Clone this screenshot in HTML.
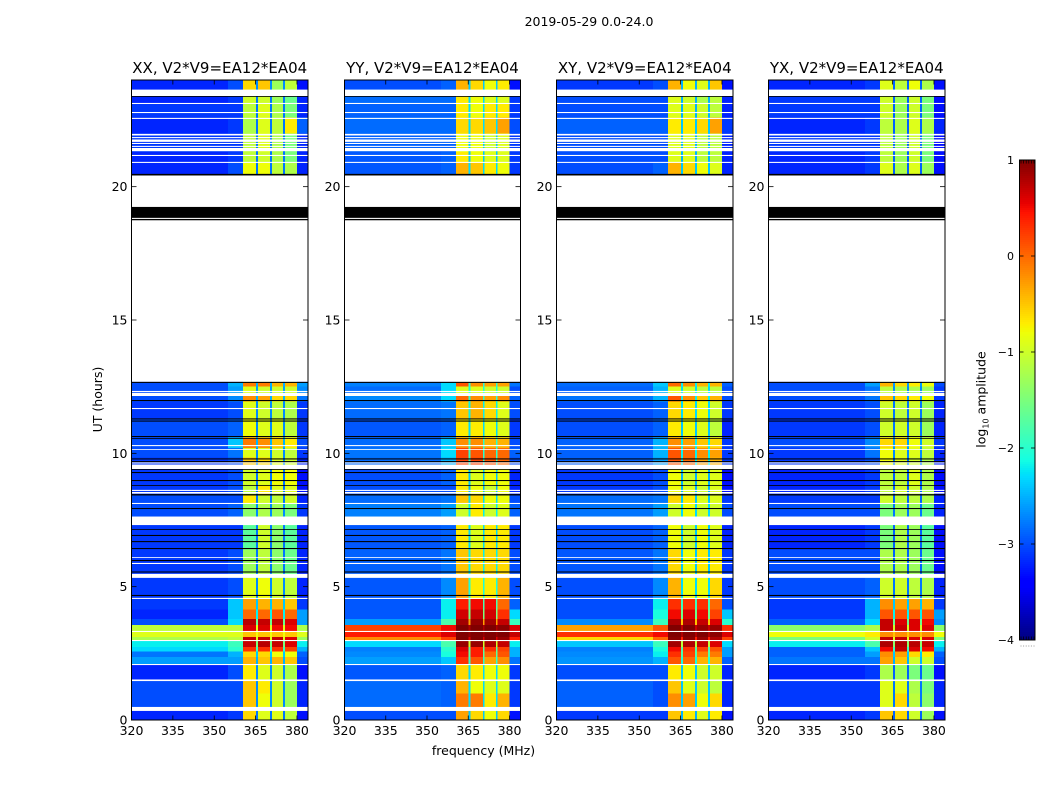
<!DOCTYPE html>
<html lang="en">
<head>
<meta charset="utf-8">
<title>2019-05-29 amplitude waterfall</title>
<style>
html,body{margin:0;padding:0;background:#fff;width:1050px;height:800px;overflow:hidden}
svg{display:block}
text{font-family:"DejaVu Sans","Liberation Sans",sans-serif;fill:#000}
</style>
</head>
<body>
<svg id="chart" xmlns="http://www.w3.org/2000/svg" width="1050" height="800" viewBox="0 0 1050 800">
  <rect x="0" y="0" width="1050" height="800" fill="#fff"/>
  <text x="589" y="26" font-size="12.5" text-anchor="middle">2019-05-29 0.0-24.0</text>
  <text transform="translate(102,399.5) rotate(-90)" font-size="12.5" text-anchor="middle">UT (hours)</text>
  <text x="483.5" y="755" font-size="12.5" text-anchor="middle">frequency (MHz)</text>
  <g id="panels"></g>
  <g id="colorbar"></g>
  <text transform="translate(985.5,399.5) rotate(-90)" font-size="12.5" text-anchor="middle">log<tspan font-size="8" dy="3">10</tspan><tspan dy="-3"> amplitude</tspan></text>
</svg>
<script>
// Axis ticks
const xTicks = [320, 335, 350, 365, 380];
const yTicks = [0, 5, 10, 15, 20];
const colorTicks = [1, 0, -1, -2, -3, -4];
const colorTickLabels = ['1', '0', '\u22121', '\u22122', '\u22123', '\u22124'];

// Panel titles
const panelTitles = ['XX, V2*V9=EA12*EA04', 'YY, V2*V9=EA12*EA04', 'XY, V2*V9=EA12*EA04', 'YX, V2*V9=EA12*EA04'];

// Frequency bin edges (MHz) and the value column used by each bin
const freqEdges = [320, 355, 360.5, 365.1, 365.9, 370.3, 370.9, 375, 375.7, 380, 384];
const binColumns = [0, 1, 2, 6, 3, 6, 4, 6, 5, 7];

// Upper edge of each time row (hours); a row ends where the next begins
const rowTops = [24, 23.64, 23.1, 22.6, 22, 21.3, 20.9, 12.68, 12.5, 12.15, 11.95, 11.3, 10.6, 10.2, 9.85, 9.41, 8.8, 8.45, 8.1, 7.31, 6.4, 5.33, 4.54, 4.15, 3.78, 3.56, 3.34, 3.12, 2.96, 2.73, 2.56, 2.37, 2.09, 1.5, 1, 0.49];

// Flagged time ranges [from, to] in hours
const whiteFlags = [[23.64,23.4],[23.14,23.1],[22.8,22.76],[22.58,22.54],[21.98,21.92],[21.86,21.82],[21.77,21.68],[21.64,21.6],[21.53,21.49],[21.45,21.33],[21.19,21.15],[20.93,20.89],[20.42,12.68],[12.34,12.3],[12.27,12.15],[11.7,11.66],[10.31,10.27],[10.16,10.13],[9.66,9.62],[9.58,9.41],[8.63,8.59],[8.55,8.49],[8.14,8.1],[7.63,7.31],[6.11,6.08],[5.89,5.85],[5.48,5.33],[4.58,4.54],[3.34,3.3],[3,2.96],[2.1,2.06],[1.52,1.46],[0.49,0.34]];
const blackFlags = [[23.4,23.37],[20.48,20.42],[19.24,18.83],[18.79,18.74],[12.68,12.64],[12,11.96],[11.31,11.27],[11.23,11.19],[10.65,10.61],[10.57,10.54],[9.81,9.77],[9.71,9.67],[9.41,9.38],[9.3,9.26],[9,8.96],[8.81,8.78],[8.47,8.42],[7.95,7.91],[7.16,7.13],[6.94,6.9],[6.71,6.67],[6.45,6.41],[6,5.96],[5.57,5.53],[4.69,4.65]];

// log10 amplitude per row: [background, rising edge, band 1, band 2, band 3, band 4, band gap, right side]
const xxValues = [
[-3.2,-3,-.6,-.5,-1.3,-1.1,-2.7,-3.3],[-3.2,-3.1,-1,-1,-1.3,-1.6,-2.8,-3.2],[-3.1,-3.1,-1.1,-.9,-1.2,-1.5,-2.8,-3.2],[-3.2,-3.1,-1.2,-.9,-1.1,-.7,-2.8,-2.9],
[-3.1,-3.1,-1.1,-.9,-1.2,-1.5,-2.8,-3.2],[-3.2,-3.1,-1.1,-1,-1.2,-1.5,-2.8,-3.2],[-3.2,-3,-.8,-.8,-1.1,-1.2,-2.8,-3.2],[-3,-2.5,-.1,-.1,-.4,-.4,-2.5,-2.6],
[-3,-2.6,-.9,-1,-1,-1,-2.6,-2.7],[-3,-2.7,-.2,-.3,-.6,-.6,-2.5,-2.8],[-3.1,-3,-.9,-1,-1.1,-1.2,-2.7,-3.1],[-3,-2.9,-.8,-.9,-.9,-1.1,-2.7,-3.1],
[-3,-2.4,-.1,-.2,-.5,-.7,-2.5,-3],[-3,-2.8,-.9,-.9,-1,-1.1,-2.7,-3.1],[-3.1,-3,-.5,-.6,-.9,-1,-2.7,-3.2],[-3.1,-3,-1,-.9,-.8,-.8,-2.8,-3.3],
[-3.1,-3,-1.1,-.7,-.9,-.9,-2.8,-3.3],[-3,-3,-.7,-1,-1.1,-1,-2.8,-3.2],[-3,-2.9,-1.4,-1.2,-1.3,-1.5,-2.7,-3.1],[-3.1,-3.1,-1.7,-1,-1.4,-1.7,-2.8,-3.2],
[-3.1,-3,-1.3,-1.1,-1.4,-1.6,-2.8,-3.2],[-3.1,-3,-.9,-.8,-1,-1.1,-2.7,-3.2],[-3.1,-2.4,-.3,-.4,-.4,-.5,-2.4,-3.1],[-3.2,-2.4,0,0,.1,0,-2.2,-2.6],
[-3,-2.3,.75,.7,.7,.6,-1.6,-2.6],[-1.1,-1.1,.6,.6,.5,.5,-.9,-1.2],[-.9,-.9,-.5,-.5,-.5,-.5,-.8,-.9],[-1.2,-1.1,.7,.7,.7,.6,-.9,-1.3],
[-2.2,-1.9,.7,.75,.7,.6,-1.5,-2.2],[-2.3,-2,.3,.3,.3,.2,-1.9,-2.5],[-2.8,-2.5,-.6,-.6,-.8,-.8,-2.4,-2.9],[-2.6,-2.6,-.4,-.5,-.4,-.5,-2.5,-3],
[-3.2,-3,-.7,-.9,-1,-1.2,-2.7,-3.3],[-3,-3,-.5,-.7,-1,-1.3,-2.7,-3.2],[-3,-3,-.5,-.8,-1,-1.3,-2.7,-3.2],[-3.2,-3.1,-.6,-.9,-.9,-1.1,-2.8,-3.3]
];
const yyValues = [
[-3,-2.9,-.4,-.6,-.8,-.7,-2.4,-3.3],[-2.85,-2.85,-.7,-.8,-.9,-.9,-2.3,-3.1],[-2.9,-2.9,-.7,-.8,-.7,-.7,-2.3,-3.1],[-2.85,-2.85,-.6,-.6,-.5,-.3,-2.3,-3],
[-2.9,-2.9,-.8,-.8,-1,-.9,-2.4,-3.1],[-2.95,-2.9,-.7,-.8,-.9,-.9,-2.4,-3.1],[-2.95,-2.9,-.4,-.5,-.7,-.8,-2.3,-3.1],[-2.75,-2.3,.1,-.2,-.3,-.3,-2,-2.8],
[-2.85,-2.3,-.9,-.9,-1,-1,-2.1,-3],[-2.7,-2.3,0,-.2,-.3,-.2,-2,-2.9],[-2.85,-2.8,-.5,-.4,-.6,-.9,-2.2,-3],[-2.95,-2.9,-.7,-.7,-.8,-.9,-2.3,-3.1],
[-2.85,-2.4,-.2,-.2,-.4,-.4,-2,-3],[-2.8,-2.3,.2,.1,0,0,-2,-2.9],[-2.85,-2.5,.2,.2,.1,0,-2,-3],[-3,-2.9,-.7,-.9,-.8,-.8,-2.4,-3.2],
[-3,-3,-.7,-.8,-1,-.8,-2.5,-3.2],[-2.85,-2.8,-.5,-.6,-.8,-.8,-2.3,-3],[-2.75,-2.6,-1,-.7,-1,-.9,-2.2,-2.9],[-2.95,-2.9,-.7,-.9,-.7,-.7,-2.3,-3.1],
[-2.9,-2.8,-.5,-.6,-.6,-.6,-2.2,-3],[-2.95,-2.7,-.3,-.7,-.7,-.4,-2.1,-3],[-2.95,-2.2,.4,.5,.5,0,-1.8,-2.9],[-2.95,-2.2,.65,.7,.65,.3,-1.5,-2.3],
[-2.6,-1.8,.85,.9,.85,.7,-.3,-1.9],[.2,.5,1,1,1,.95,.8,.6],[.4,.6,1,1,1,1,.9,.7],[-.2,.2,1,1,1,.9,.6,.4],
[-2.3,-1.8,.9,.9,.8,.7,-1,-2.2],[-2.75,-2,.6,.4,.3,.2,-1.7,-2.5],[-2.7,-2.1,.5,.4,0,.1,-1.7,-2.5],[-2.6,-2.4,.3,.1,-.3,-.2,-2,-2.8],
[-2.95,-2.9,-.6,-.7,-.8,-.8,-2.3,-3.1],[-2.85,-2.9,-.4,-.8,-.9,-.9,-2.3,-3.1],[-2.85,-2.9,-.1,-.1,-.7,-.4,-2.3,-3.1],[-3,-3,-.3,-.6,-.8,-.6,-2.4,-3.3]
];
const xyValues = [
[-3.1,-3,-.4,-.8,-.9,-.5,-2.5,-3.3],[-3,-3,-.9,-1,-1.2,-1.1,-2.5,-3.2],[-3,-3,-.9,-.9,-1,-1.1,-2.5,-3.2],[-2.9,-2.9,-.7,-.7,-.6,-.3,-2.4,-3.1],
[-3,-3,-.9,-.9,-1.1,-1.1,-2.5,-3.2],[-3,-3,-.9,-.9,-1.1,-1.1,-2.5,-3.2],[-3,-2.9,-.4,-.6,-.8,-.9,-2.4,-3.2],[-2.85,-2.4,0,-.2,-.4,-.4,-2.2,-2.9],
[-2.9,-2.5,-.9,-1,-1.1,-1.1,-2.3,-3],[-2.8,-2.5,.1,-.2,-.5,-.4,-2.2,-3],[-3,-2.9,-.6,-.7,-.8,-1,-2.3,-3.1],[-3,-2.9,-.7,-.8,-.9,-1.1,-2.4,-3.2],
[-2.9,-2.5,-.2,-.3,-.5,-.6,-2.2,-3.1],[-2.9,-2.5,.1,0,-.2,-.3,-2.2,-3.1],[-2.9,-2.6,.1,0,-.3,-.4,-2.2,-3.1],[-3.1,-3,-.8,-1,-.9,-.9,-2.5,-3.3],
[-3.1,-3,-.8,-.9,-1,-.9,-2.5,-3.3],[-2.85,-2.8,-.6,-.7,-.9,-.9,-2.4,-3.1],[-2.8,-2.6,-1,-.8,-1,-1,-2.3,-3],[-3,-2.9,-.8,-1,-.8,-.9,-2.4,-3.2],
[-2.95,-2.8,-.6,-.8,-.7,-.7,-2.4,-3.1],[-3,-2.7,-.4,-.8,-.8,-.6,-2.3,-3.1],[-3,-2.2,.3,.3,.3,0,-1.9,-3],[-3,-2.1,.5,.6,.5,.2,-1.6,-2.4],
[-2.7,-1.9,.8,.8,.7,.6,-.5,-2],[-.3,.1,1,1,.9,.9,.7,.3],[.3,.5,1,1,1,.95,.8,.6],[-.6,0,.95,.95,.9,.8,.4,.2],
[-2.4,-1.9,.85,.8,.7,.6,-1.1,-2.3],[-2.75,-2.1,.5,.3,.2,.1,-1.8,-2.6],[-2.7,-2.2,.3,.2,-.1,-.1,-1.8,-2.6],[-2.65,-2.5,.1,0,-.4,-.4,-2.1,-2.9],
[-3,-3,-.7,-.8,-1,-1,-2.4,-3.2],[-2.9,-3,-.5,-.9,-1,-1.1,-2.4,-3.2],[-2.9,-3,-.2,-.3,-.8,-.6,-2.4,-3.2],[-3.1,-3.1,-.5,-.7,-.9,-.7,-2.5,-3.3]
];
const yxValues = [
[-3.2,-3.1,-.9,-1.1,-.8,-1.2,-2.9,-3.3],[-3.1,-3.1,-1,-1.3,-1,-1.5,-2.9,-3.3],[-3.1,-3.1,-1,-1.3,-1,-1.5,-2.9,-3.3],[-3.2,-3.1,-1.1,-1.2,-.9,-1.2,-2.9,-3.2],
[-3.1,-3.1,-1.1,-1.3,-1,-1.5,-2.9,-3.3],[-3.2,-3.1,-1.1,-1.3,-1,-1.5,-2.9,-3.3],[-3.2,-3.1,-.9,-1.2,-.9,-1.3,-2.9,-3.3],[-3,-2.6,-.4,-.6,-.7,-.8,-2.6,-3],
[-3,-2.8,-1.1,-1.2,-1.2,-1.3,-2.7,-3.1],[-3,-2.8,-.5,-.6,-.7,-.8,-2.6,-3.1],[-3.1,-3,-1,-1.1,-1,-1.3,-2.8,-3.2],[-3.1,-3,-1,-1,-1,-1.3,-2.8,-3.2],
[-3,-2.7,-.6,-.6,-.8,-1,-2.6,-3.1],[-3.1,-2.8,-.8,-.9,-.9,-1.1,-2.7,-3.2],[-3.1,-3,-.8,-.9,-1,-1.2,-2.8,-3.2],[-3.2,-3.1,-1.1,-1.1,-.9,-1.2,-2.9,-3.3],
[-3.2,-3.1,-1.1,-1,-1,-1.2,-2.9,-3.3],[-3.1,-3.1,-1,-1.1,-1.1,-1.2,-2.9,-3.2],[-3,-3,-1.5,-1.3,-1.3,-1.6,-2.8,-3.2],[-3.2,-3.1,-1.5,-1.2,-1.3,-1.7,-2.9,-3.3],
[-3,-3,-1.2,-1.2,-1.3,-1.6,-2.9,-3.3],[-3,-2.9,-1,-1,-1.1,-1.2,-2.8,-3.2],[-3.1,-2.5,-.2,-.3,-.3,-.4,-2.4,-3.1],[-3.1,-2.5,.1,.1,.1,.1,-2.2,-2.6],
[-2.9,-2.3,.7,.6,.6,.5,-1.6,-2.7],[-1.4,-1.2,.7,.7,.6,.6,-1,-1.4],[-.8,-.7,-.2,-.2,-.2,-.2,-.5,-.8],[-1.5,-1,.7,.7,.6,.6,-.9,-1.5],
[-2.2,-1.8,.8,.8,.75,.7,-1.4,-2.2],[-2.9,-2.4,.5,.7,.6,.5,-1.9,-2.5],[-2.9,-2.6,-.2,-.3,-.6,-.7,-2.4,-2.9],[-2.8,-2.8,-.3,-.5,-1,-1,-2.5,-3],
[-3.2,-3.1,-1.2,-1.3,-1.5,-1.6,-2.9,-3.3],[-3.1,-3.1,-.9,-.9,-1.2,-1.5,-2.8,-3.2],[-3.1,-3.1,-.9,-.6,-1.1,-1.4,-2.8,-3.2],[-3.2,-3.1,-.5,-.6,-1,-1.3,-2.9,-3.3]
];
const panelValues = [xxValues, yyValues, xyValues, yxValues];

// Layout
const SVG_NS = 'http://www.w3.org/2000/svg';
const panelBoxes = [{l:131.5,r:308},{l:344.5,r:520.5},{l:556.5,r:733},{l:768.5,r:945}];
const plotTop = 80, plotBottom = 720;
const FREQ_MIN = 320, FREQ_MAX = 384, HOUR_MIN = 0, HOUR_MAX = 24;
const COLOR_MIN = -4, COLOR_MAX = 1;

function xScale(box, f) { return box.l + (f - FREQ_MIN) / (FREQ_MAX - FREQ_MIN) * (box.r - box.l); }
function yScale(h) { return plotBottom - (h - HOUR_MIN) / (HOUR_MAX - HOUR_MIN) * (plotBottom - plotTop); }

function lerpStops(t, stops) {
  for (let i = 1; i < stops.length; i++) {
    if (t <= stops[i][0]) {
      const a = stops[i - 1], b = stops[i];
      return a[1] + (b[1] - a[1]) * (t - a[0]) / (b[0] - a[0]);
    }
  }
  return stops[stops.length - 1][1];
}
const jetRed = [[0,0],[.35,0],[.66,1],[.89,1],[1,.5]];
const jetGreen = [[0,0],[.125,0],[.375,1],[.64,1],[.91,0],[1,0]];
const jetBlue = [[0,.5],[.11,1],[.34,1],[.65,0],[1,0]];
function jet(v) {
  const t = Math.max(0, Math.min(1, (v - COLOR_MIN) / (COLOR_MAX - COLOR_MIN)));
  const c = s => Math.round(255 * lerpStops(t, s));
  return 'rgb(' + c(jetRed) + ',' + c(jetGreen) + ',' + c(jetBlue) + ')';
}
function make(tag, attrs, parent) {
  const el = document.createElementNS(SVG_NS, tag);
  for (const k in attrs) el.setAttribute(k, attrs[k]);
  parent.appendChild(el);
  return el;
}

const panelsGroup = document.getElementById('panels');
panelBoxes.forEach(function (box, p) {
  const g = make('g', {}, panelsGroup);
  
  

  const values = panelValues[p];
  rowTops.forEach(function (top, r) {
    const bottom = r + 1 < rowTops.length ? rowTops[r + 1] : HOUR_MIN;
    binColumns.forEach(function (col, b) {
      const x0 = xScale(box, freqEdges[b]), x1 = xScale(box, freqEdges[b + 1]);
      const cell = make('rect', {x: x0, y: yScale(top), width: x1 - x0, height: yScale(bottom) - yScale(top), fill: jet(values[r][col]), 'shape-rendering': 'crispEdges'}, g);
      
      
    });
  });

  whiteFlags.forEach(function (span) {
    const el = make('rect', {x: box.l, y: yScale(span[0]), width: box.r - box.l, height: yScale(span[1]) - yScale(span[0]), fill: '#fff'}, g);
    
    
  });
  blackFlags.forEach(function (span) {
    const el = make('rect', {x: box.l, y: yScale(span[0]), width: box.r - box.l, height: yScale(span[1]) - yScale(span[0]), fill: '#000'}, g);
    
    
  });

  const frame = make('rect', {x: box.l, y: plotTop, width: box.r - box.l, height: plotBottom - plotTop, fill: 'none', stroke: '#000', 'stroke-width': 1}, g);
  
  

  xTicks.forEach(function (t) {
    const x = xScale(box, t);
    const tb = make('line', {x1: x, x2: x, y1: plotBottom, y2: plotBottom - 4.5, stroke: '#000', 'stroke-width': 0.8}, g);
    
    
    const tt = make('line', {x1: x, x2: x, y1: plotTop, y2: plotTop + 4.5, stroke: '#000', 'stroke-width': 0.8}, g);
    
    
    const lab = make('text', {x: x, y: 735, 'font-size': 12.5, 'text-anchor': 'middle'}, g);
    lab.textContent = t;
    
    
  });
  yTicks.forEach(function (t) {
    const y = yScale(t);
    const tl = make('line', {x1: box.l, x2: box.l + 5, y1: y, y2: y, stroke: '#000', 'stroke-width': 0.8}, g);
    
    
    const tr = make('line', {x1: box.r, x2: box.r - 5, y1: y, y2: y, stroke: '#000', 'stroke-width': 0.8}, g);
    
    
    const lab = make('text', {x: box.l - 4, y: y + 4.5, 'font-size': 12.5, 'text-anchor': 'end'}, g);
    lab.textContent = t;
    
    
  });

  const title = make('text', {x: (box.l + box.r) / 2, y: 73, 'font-size': 15, 'text-anchor': 'middle'}, g);
  title.textContent = panelTitles[p];
  
  
});

// Colorbar
const cb = document.getElementById('colorbar');
const cbLeft = 1019.5, cbRight = 1035, cbTop = 160, cbBottom = 640;
function cbScale(v) { return cbBottom - (v - COLOR_MIN) / (COLOR_MAX - COLOR_MIN) * (cbBottom - cbTop); }
for (let py = cbTop; py < cbBottom; py += 2) {
  const strip = make('rect', {x: cbLeft, y: py, width: cbRight - cbLeft, height: 2, fill: jet(COLOR_MAX - (py + 1 - cbTop) / (cbBottom - cbTop) * (COLOR_MAX - COLOR_MIN)), 'shape-rendering': 'crispEdges'}, cb);
  
  
}
const cbFrame = make('rect', {x: cbLeft, y: cbTop, width: cbRight - cbLeft, height: cbBottom - cbTop, fill: 'none', stroke: '#000', 'stroke-width': 1}, cb);


colorTicks.forEach(function (v, i) {
  const y = cbScale(v);
  const a = make('line', {x1: cbLeft, x2: cbLeft + 4, y1: y, y2: y, stroke: '#000', 'stroke-width': 0.8}, cb);
  
  
  const b = make('line', {x1: cbRight, x2: cbRight - 4, y1: y, y2: y, stroke: '#000', 'stroke-width': 0.8}, cb);
  
  
  const lab = make('text', {x: 1014, y: y + 4, 'font-size': 11, 'text-anchor': 'end'}, cb);
  lab.textContent = colorTickLabels[i];
  
  
});
for (let k = 0; k < 6; k++) {
  const x = cbLeft + 1.5 + k * 2.6;
  const t1 = make('line', {x1: x, x2: x, y1: cbTop, y2: cbTop + 3.5, stroke: '#000', 'stroke-width': 0.7}, cb);
  
  
  const t2 = make('line', {x1: x, x2: x, y1: cbBottom, y2: cbBottom - 3.5, stroke: '#000', 'stroke-width': 0.7}, cb);
  
  
  const d = make('rect', {x: x - 0.5, y: 645.5, width: 1, height: 1, fill: '#999'}, cb);
  
  
}
</script>
</body>
</html>
